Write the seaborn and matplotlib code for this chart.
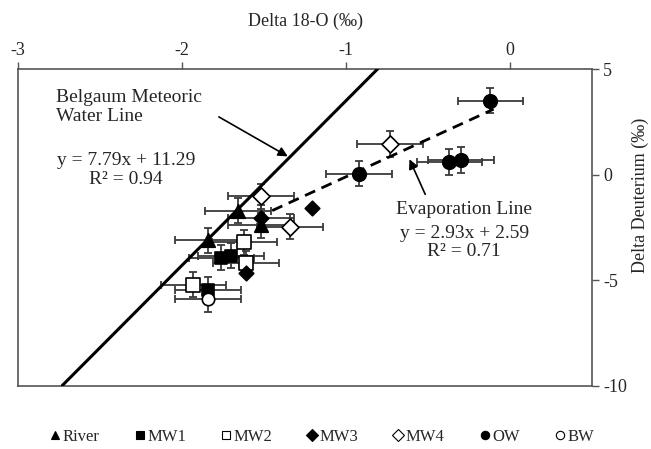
"""
Delta 18-O vs Delta Deuterium: meteoric water line and evaporation line.
"""

import numpy as np
import pandas as pd
import matplotlib
matplotlib.use("Agg")
import matplotlib.pyplot as plt
import seaborn as sns
from matplotlib.lines import Line2D

# --- datos ---
river_x = [-1.66, -1.52, -1.84]
river_y = [-1.7, -2.4, -3.1]
mw1_x = [-1.76, -1.70, -1.84]
mw1_y = [-3.93, -3.84, -5.45]
mw2_x = [-1.62, -1.61, -1.93]
mw2_y = [-3.2, -4.2, -5.2]
mw3_x = [-1.52, -1.21, -1.61]
mw3_y = [-2.04, -1.6, -4.64]
mw3_xerr = [0.2, 0.0, 0.0]
mw3_yerr = [0.6, 0.0, 0.0]
mw4_x = [-0.73, -1.52, -1.34]
mw4_y = [1.45, -1.03, -2.46]
ow_x = [-0.12, -0.92, -0.37, -0.30]
ow_y = [3.5, 0.05, 0.6, 0.7]
bw_x = [-1.84]
bw_y = [-5.9]

XERR = 0.2
YERR = 0.6

# rectas
gmwl_slope, gmwl_icpt = 7.79, 11.29
gmwl_x = [-2.73, -0.807]
evap_x = [-1.45, -0.10]
evap_y = [-1.7, 3.1]

x_ticks = [-3, -2, -1, 0]
y_ticks = [-10, -5, 0, 5]

FONT = "Liberation Serif"
ERR_COLOR = "#3a3a3a"


def build_frame():
    grupos = [
        ("River", river_x, river_y, None, None),
        ("MW1", mw1_x, mw1_y, None, None),
        ("MW2", mw2_x, mw2_y, None, None),
        ("MW3", mw3_x, mw3_y, mw3_xerr, mw3_yerr),
        ("MW4", mw4_x, mw4_y, None, None),
        ("OW", ow_x, ow_y, None, None),
        ("BW", bw_x, bw_y, None, None),
    ]
    filas = []
    for nombre, xs, ys, xe, ye in grupos:
        for i, (x, y) in enumerate(zip(xs, ys)):
            filas.append({
                "grupo": nombre, "d18O": x, "dD": y,
                "xerr": XERR if xe is None else xe[i],
                "yerr": YERR if ye is None else ye[i],
            })
    return pd.DataFrame(filas)


# estilo de cada grupo: marcador, relleno, tamano
ESTILOS = {
    "River": ("^", "black", 95),
    "MW1": ("s", "black", 70),
    "MW2": ("s", "white", 90),
    "MW3": ("D", "black", 55),
    "MW4": ("D", "white", 75),
    "OW": ("o", "black", 95),
    "BW": ("o", "white", 80),
}


def main():
    sns.set_style("white")
    plt.rcParams["font.family"] = [FONT, "DejaVu Serif"]
    plt.rcParams["axes.unicode_minus"] = False

    df = build_frame()

    fig = plt.figure(figsize=(6.51, 4.49), dpi=100)
    ax = fig.add_axes([18 / 651, 1 - 386 / 449, (592 - 18) / 651, (386 - 69) / 449])

    # barras de error
    con_err = df[(df.xerr > 0) | (df.yerr > 0)]
    ax.errorbar(con_err.d18O, con_err.dD, xerr=con_err.xerr, yerr=con_err.yerr,
                fmt="none", ecolor=ERR_COLOR, elinewidth=1.3, capsize=3, capthick=1.3,
                zorder=2)

    # lineas
    gx = np.array(gmwl_x)
    sns.lineplot(x=gx, y=gmwl_slope * gx + gmwl_icpt, ax=ax, color="black",
                 linewidth=2.2, zorder=3)
    sns.lineplot(x=evap_x, y=evap_y, ax=ax, color="black", linewidth=2,
                 linestyle=(0, (4, 2.5)), zorder=3)

    # puntos
    for grupo, (mk, fc, s) in ESTILOS.items():
        sub = df[df.grupo == grupo]
        sns.scatterplot(data=sub, x="d18O", y="dD", ax=ax, marker=mk, s=s,
                        color=fc, edgecolor="black", linewidth=1.2, zorder=4,
                        legend=False)

    ax.set_xlim(-3, 0.5)
    ax.set_ylim(-10, 5)
    ax.set_xticks(x_ticks)
    ax.set_yticks(y_ticks)
    ax.xaxis.tick_top()
    ax.yaxis.tick_right()
    ax.tick_params(axis="both", direction="out", length=5, width=1, color="#555555",
                   labelsize=13)
    ax.tick_params(axis="x", pad=2)
    ax.tick_params(axis="y", pad=3)
    ax.xaxis.set_label_position("top")
    ax.set_xlabel("Delta 18-O (‰)", fontsize=13, labelpad=12)
    ax.set_ylabel("")
    fig.text(640 / 651, 1 - 195 / 449, "Delta Deuterium (‰)", fontsize=13,
             rotation=90, ha="center", va="center")
    for sp in ax.spines.values():
        sp.set_color("#555555")
        sp.set_linewidth(1.2)

    # anotaciones
    ax.text(-2.77, 3.2, "Belgaum Meteoric\nWater Line", fontsize=14,
            ha="left", va="center", linespacing=1.15)
    ax.text(-2.34, 0.2, "y = 7.79x + 11.29\nR² = 0.94", fontsize=14,
            ha="center", va="center", multialignment="center", linespacing=1.15)
    ax.annotate("", xy=(-1.34, 0.8), xytext=(-1.79, 2.8),
                arrowprops=dict(arrowstyle="-|>", color="black", lw=1.2,
                                mutation_scale=14))

    ax.text(-0.28, -1.65, "Evaporation Line", fontsize=14, ha="center", va="center")
    ax.text(-0.28, -3.2, "y = 2.93x + 2.59\nR² = 0.71", fontsize=14,
            ha="center", va="center", multialignment="center", linespacing=1.1)
    ax.annotate("", xy=(-0.62, 0.85), xytext=(-0.51, -1.05),
                arrowprops=dict(arrowstyle="-|>", color="black", lw=1.2,
                                mutation_scale=14))

    # leyenda
    handles = []
    for grupo, (mk, fc, s) in ESTILOS.items():
        handles.append(Line2D([], [], linestyle="none", marker=mk, markersize=6,
                              markerfacecolor=fc, markeredgecolor="black",
                              markeredgewidth=0.8, label=grupo))
    fig.legend(handles=handles, loc="center", bbox_to_anchor=(0.495, 1 - 437 / 449),
               ncol=7, frameon=False, fontsize=12, handlelength=0.6,
               handletextpad=0.15, columnspacing=2.1)

    fig.savefig("out.png", dpi=100)
    plt.close(fig)


if __name__ == "__main__":
    main()
